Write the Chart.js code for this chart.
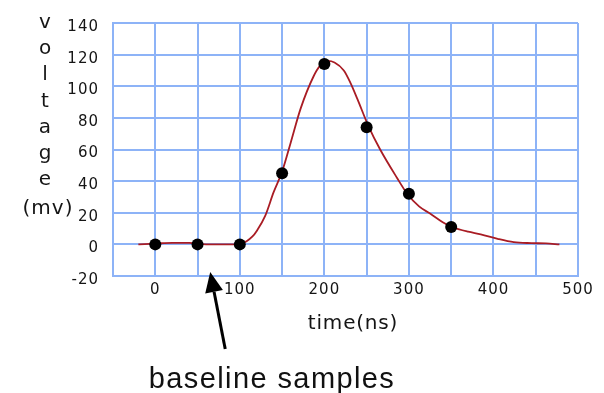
<!DOCTYPE html>
<html>
<head>
<meta charset="utf-8">
<script src="https://cdn.jsdelivr.net/npm/chart.js@4.4.1/dist/chart.umd.min.js"></script>
<style>
html, body { margin: 0; padding: 0; background: #fff; }
</style>
</head>
<body>
<canvas id="pulse" width="604" height="393"></canvas>
<script>
// sampled points (the black dots)
var sample_t = [0, 50, 100, 150, 200, 250, 300, 350];
var sample_v = [0, 0, 0, 45, 114, 74, 32, 11];

// traced pulse shape (red line)
var curve_t = [-20, 0, 20, 40, 60, 80, 100, 108, 115, 120, 130, 140, 150, 160, 172, 187, 195, 204, 212, 223, 231, 239, 252, 266, 286, 298, 312, 325, 340, 351, 370, 385, 405, 424, 445, 462, 478];
var curve_v = [0, 0.5, 1, 1, 0, 0, 0, 2, 5, 8.5, 18, 33, 46, 64, 86, 106, 113, 116, 115, 110, 102, 92, 75, 60, 42, 32, 24, 19.5, 14, 11, 8, 6.4, 3.5, 1.4, 0.8, 0.6, 0];

var x_labels = [0, 100, 200, 300, 400, 500];
var y_labels = [-20, 0, 20, 40, 60, 80, 100, 120, 140];

var y_title = ["v", "o", "l", "t", "a", "g", "e"];

var gridBlue = "#8db3f7";
var textCol = "#151515";

function toPoints(xs, ys){
    var pts = [];
    for (let i = 0; i < xs.length; i++) {
        pts.push({x: xs[i], y: ys[i]});
    }
    return pts;
}

// titles, arrow and the note are drawn on top
var decorations = {
    id: "decorations",
    beforeDraw: function(chart){
        chart.ctx.letterSpacing = "1px";
    },
    afterDraw: function(chart){
        var ctx = chart.ctx;
        var xs = chart.scales.x;
        var ys = chart.scales.y;
        ctx.save();
        ctx.fillStyle = textCol;
        ctx.textAlign = "center";
        ctx.textBaseline = "alphabetic";

        // stacked y title
        ctx.letterSpacing = "0px";
        ctx.font = '20px "DejaVu Sans"';
        y_title.forEach((ch, i) => {
            ctx.fillText(ch, 45, 28 + i * 26.2);
        });
        ctx.letterSpacing = "1px";
        ctx.fillText("(mv)", 48, 214);

        // x title
        ctx.letterSpacing = "0.8px";
        ctx.font = '20px "DejaVu Sans"';
        ctx.fillText("time(ns)", 353, 329);

        // arrow pointing at the baseline samples
        var tipX = xs.getPixelForValue(65);
        var tipY = ys.getPixelForValue(-17.5);
        var tailX = tipX + 15, tailY = tipY + 77;
        var ang = Math.atan2(tipY - tailY, tipX - tailX);
        var headLen = 20, headW = 9;
        var bx = tipX - headLen * Math.cos(ang), by = tipY - headLen * Math.sin(ang);
        ctx.strokeStyle = "#000";
        ctx.lineWidth = 3;
        ctx.beginPath();
        ctx.moveTo(tailX, tailY);
        ctx.lineTo(bx, by);
        ctx.stroke();
        ctx.fillStyle = "#000";
        ctx.beginPath();
        ctx.moveTo(tipX, tipY);
        ctx.lineTo(bx + headW * Math.sin(ang), by - headW * Math.cos(ang));
        ctx.lineTo(bx - headW * Math.sin(ang), by + headW * Math.cos(ang));
        ctx.closePath();
        ctx.fill();

        // note
        ctx.letterSpacing = "1.4px";
        ctx.font = '29px "Liberation Sans"';
        ctx.fillStyle = "#111";
        ctx.fillText("baseline samples", 272, 388);
        ctx.restore();
    }
};

var ctx = document.getElementById("pulse");

var pulse = new Chart(ctx, {
    type: "scatter",
    data: {
        datasets: [
            {
                label: "samples",
                data: toPoints(sample_t, sample_v),
                pointRadius: 6,
                pointBackgroundColor: "#000",
                pointBorderWidth: 0,
                order: 0
            },
            {
                label: "pulse",
                data: toPoints(curve_t, curve_v),
                showLine: true,
                borderColor: "#a91c24",
                borderWidth: 1.8,
                pointRadius: 0,
                cubicInterpolationMode: "monotone",
                order: 1
            }
        ]
    },
    options: {
        responsive: false,
        animation: false,
        layout: {
            padding: {top: 11, right: 26, bottom: 0, left: 0}
        },
        plugins: {
            legend: {display: false},
            tooltip: {enabled: false}
        },
        scales: {
            x: {
                type: "linear",
                min: -50,
                max: 500,
                afterFit: function(scale){ scale.height = 117; },
                afterBuildTicks: function(scale){
                    var t = [];
                    for (let v = -50; v <= 500; v += 50) t.push({value: v});
                    scale.ticks = t;
                },
                ticks: {
                    padding: 5,
                    color: textCol,
                    font: {family: "DejaVu Sans", size: 15},
                    maxRotation: 0,
                    autoSkip: false,
                    callback: function(v){ return x_labels.includes(v) ? String(v) : ""; }
                },
                grid: {color: gridBlue, lineWidth: 2, drawTicks: false},
                border: {color: gridBlue, width: 2}
            },
            y: {
                min: -20,
                max: 140,
                afterFit: function(scale){ scale.width = 113; },
                afterBuildTicks: function(scale){
                    scale.ticks = y_labels.map(v => ({value: v}));
                },
                ticks: {
                    padding: 14,
                    labelOffset: 4,
                    color: textCol,
                    font: {family: "DejaVu Sans", size: 15},
                    callback: function(v){ return String(v); }
                },
                grid: {color: gridBlue, lineWidth: 2, drawTicks: false},
                border: {color: gridBlue, width: 2}
            }
        }
    },
    plugins: [decorations]
});
</script>
</body>
</html>
